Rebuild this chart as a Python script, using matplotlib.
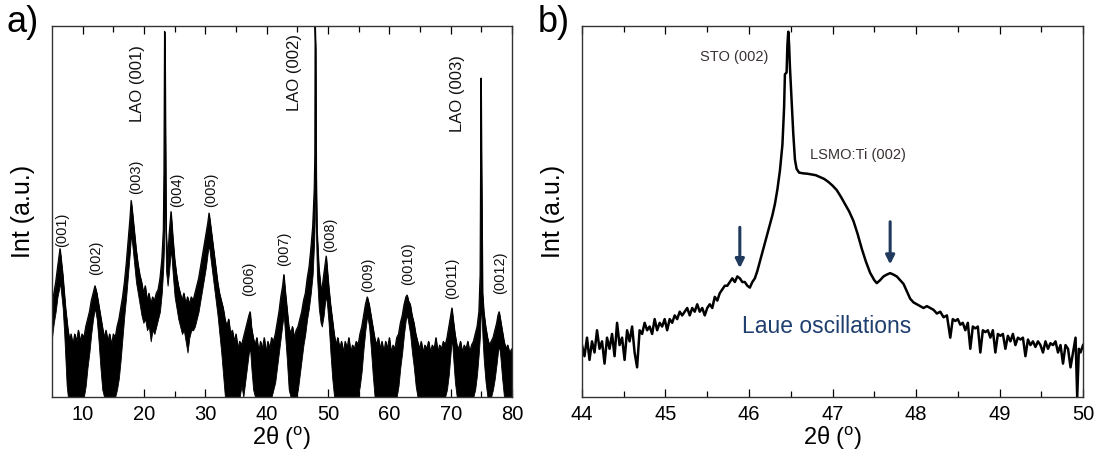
import matplotlib
matplotlib.use("Agg")
import matplotlib.pyplot as plt

plt.rcParams['font.family'] = ['Liberation Sans', 'DejaVu Sans']
plt.rcParams['mathtext.fontset'] = 'custom'
plt.rcParams['mathtext.rm'] = 'Liberation Sans'

# ---------------- Panel a: wide-range scan (display units: 0..100 of axis height)
a_two_theta = [5.0, 5.3, 5.6, 5.9, 6.15, 6.3, 6.5, 6.75, 7.0, 7.2, 7.4, 7.6, 7.9, 8.1, 8.4, 8.7,
               9.0, 9.3, 9.6, 9.9, 10.2, 10.5, 10.8, 11.1, 11.4, 11.7, 12.0, 12.3, 12.6, 12.9,
               13.2, 13.5, 13.8, 14.1, 14.4, 14.7, 15.0, 15.3, 15.6, 15.9, 16.2, 16.5, 16.8,
               17.1, 17.4, 17.7, 17.9, 18.1, 18.4, 18.7, 19.0, 19.3, 19.6, 19.9, 20.2, 20.5,
               20.8, 21.1, 21.4, 21.7, 22.0, 22.3, 22.6, 22.9, 23.15, 23.25, 23.35, 23.45,
               23.6, 23.85, 24.1, 24.4, 24.7, 25.0, 25.3, 25.6, 25.9, 26.2, 26.5, 26.8, 27.1,
               27.4, 27.7, 28.0, 28.3, 28.6, 28.9, 29.2, 29.5, 29.8, 30.1, 30.4, 30.6, 30.8,
               31.1, 31.4, 31.7, 32.0, 32.3, 32.6, 32.9, 33.2, 33.5, 33.8, 34.1, 34.4, 34.7,
               35.0, 35.3, 35.6, 35.9, 36.2, 36.5, 36.8, 37.1, 37.3, 37.5, 37.8, 38.1, 38.4,
               38.7, 39.0, 39.3, 39.6, 39.9, 40.2, 40.5, 40.8, 41.1, 41.4, 41.7, 42.0, 42.3,
               42.6, 42.8, 43.0, 43.3, 43.6, 43.9, 44.2, 44.5, 44.8, 45.1, 45.4, 45.7, 46.0,
               46.3, 46.6, 46.9, 47.2, 47.5, 47.75, 47.85, 47.9, 48.0, 48.08, 48.2, 48.5,
               48.8, 49.0, 49.3, 49.55, 49.7, 49.9, 50.1, 50.4, 50.7, 51.0, 51.3, 51.6, 51.9,
               52.2, 52.5, 52.8, 53.1, 53.4, 53.7, 54.0, 54.3, 54.6, 54.9, 55.2, 55.5, 55.8,
               56.1, 56.4, 56.7, 57.0, 57.3, 57.6, 57.9, 58.2, 58.5, 58.8, 59.1, 59.4, 59.7,
               60.0, 60.3, 60.6, 60.9, 61.2, 61.5, 61.8, 62.1, 62.4, 62.7, 62.9, 63.1, 63.4,
               63.7, 64.0, 64.3, 64.6, 64.9, 65.2, 65.5, 65.8, 66.1, 66.4, 66.7, 67.0, 67.3,
               67.6, 67.9, 68.2, 68.5, 68.8, 69.1, 69.4, 69.7, 70.0, 70.2, 70.4, 70.7, 71.0,
               71.3, 71.6, 71.9, 72.2, 72.5, 72.8, 73.1, 73.4, 73.7, 74.0, 74.3, 74.6, 74.8,
               74.95, 75.05, 75.2, 75.4, 75.7, 76.0, 76.3, 76.6, 76.9, 77.2, 77.5, 77.7, 77.9,
               78.1, 78.4, 78.7, 79.0, 79.3, 79.6, 80.0]
a_upper = [25, 28, 31, 35, 38, 40, 37, 33, 28, 24, 21, 18, 15, 17, 14, 17,
           15, 18, 15, 17, 16, 19, 21, 23, 26, 28, 30, 28, 25, 22,
           19, 16, 18, 15, 17, 14, 17, 16, 19, 21, 24, 27, 31,
           36, 42, 48, 53, 50, 45, 40, 36, 33, 31, 28, 30, 26,
           28, 25, 27, 26, 28, 29, 32, 37, 45, 60, 98.6, 88,
           45, 36, 44, 50, 43, 37, 33, 30, 28, 26, 28, 25, 27,
           25, 27, 26, 28, 30, 32, 35, 38, 41, 44, 47, 49.6, 47,
           43, 39, 35, 31, 28, 26, 24, 21, 19, 21, 17, 18, 15,
           17, 13, 15, 14, 16, 18, 20, 22, 23, 19, 16, 14, 16,
           12, 15, 13, 16, 12, 15, 13, 16, 15, 17, 20, 23, 27,
           30, 33, 29, 24, 19, 17, 19, 16, 18, 19, 21, 23, 26,
           28, 32, 35, 40, 46, 56, 65, 100, 94, 60, 45, 35,
           30, 29, 33, 36, 38, 34, 30, 25, 21, 17, 14, 16, 13,
           15, 12, 15, 13, 16, 12, 14, 13, 15, 14, 17, 19, 22,
           25, 27, 25, 22, 19, 16, 14, 16, 13, 15, 12, 15, 13,
           16, 12, 14, 13, 16, 17, 20, 22, 25, 27, 27.5, 26, 25,
           22, 20, 17, 15, 13, 15, 12, 14, 13, 15, 12, 14, 13,
           16, 12, 14, 13, 15, 14, 16, 19, 22, 24, 21, 17, 14,
           13, 15, 12, 14, 13, 15, 12, 14, 15, 17, 19, 23, 33,
           86, 60, 28, 23, 19, 16, 14, 15, 16, 18, 20, 22, 23,
           21, 18, 15, 13, 14, 12, 13]
a_lower = [16, 20, 23, 27, 29, 31, 28, 24, 17, 10, 3, 0, 0, 0, 0, 0,
           0, 0, 0, 0, 0, 3, 8, 12, 17, 21, 24, 21, 15, 8,
           2, 0, 0, 0, 0, 0, 0, 0, 2, 5, 10, 16, 22,
           27, 33, 39, 44, 41, 36, 31, 28, 25, 22, 20, 21, 18,
           19, 15, 18, 17, 19, 21, 23, 28, 35, 40, 60, 50,
           34, 30, 34, 40, 33, 27, 24, 21, 19, 17, 18, 15, 12,
           16, 18, 18, 19, 21, 23, 26, 29, 32, 35, 39, 41, 38,
           34, 30, 26, 22, 17, 12, 6, 0, 0, 0, 0, 0, 0,
           0, 0, 0, 3, 0, 4, 8, 12, 13, 8, 2, 0, 0,
           0, 0, 0, 0, 0, 0, 0, 0, 2, 4, 8, 12, 16,
           20, 22, 17, 10, 2, 0, 0, 0, 0, 2, 6, 10, 14,
           17, 21, 24, 28, 33, 42, 48, 60, 55, 42, 33, 24,
           20, 19, 22, 26, 27, 24, 20, 12, 5, 0, 0, 0, 0,
           0, 0, 0, 0, 0, 0, 0, 0, 0, 0, 3, 7, 13,
           18, 22, 19, 13, 6, 0, 0, 0, 0, 0, 0, 0, 0,
           0, 0, 0, 0, 0, 3, 8, 12, 17, 21, 22, 20, 17,
           12, 8, 3, 0, 0, 0, 0, 0, 0, 0, 0, 0, 0,
           0, 0, 0, 0, 0, 0, 2, 6, 12, 16, 11, 4, 0,
           0, 0, 0, 0, 0, 0, 0, 0, 0, 2, 6, 12, 17,
           25, 22, 16, 10, 4, 0, 0, 0, 2, 5, 9, 12, 14,
           11, 5, 0, 0, 0, 0, 0]

a_hkl_labels = ['(001)', '(002)', '(003)', '(004)', '(005)', '(006)', '(007)', '(008)',
                '(009)', '(0010)', '(0011)', '(0012)']
a_hkl_pos = [6.6, 12.2, 18.7, 25.4, 31.0, 37.1, 42.9, 50.3, 56.5, 63.0, 70.3, 78.0]
a_hkl_y = [45, 37.5, 59.5, 55.8, 55.8, 32, 40, 43.7, 33, 36, 32, 33.5]
a_lao_labels = ['LAO (001)', 'LAO (002)', 'LAO (003)']
a_lao_pos = [18.9, 44.6, 71.2]
a_lao_y = [84.6, 87.6, 81.7]

# ---------------- Panel b: zoom around (002)
b_two_theta = [44.00, 44.03, 44.06, 44.09, 44.12, 44.15, 44.18, 44.21, 44.24, 44.27, 44.30,
               44.33, 44.36, 44.39, 44.42, 44.45, 44.48, 44.51, 44.54, 44.57, 44.60, 44.63,
               44.66, 44.69, 44.72, 44.75, 44.78, 44.81, 44.84, 44.87, 44.90, 44.93, 44.96,
               44.99, 45.02, 45.05, 45.08, 45.11, 45.14, 45.17, 45.20, 45.23, 45.26, 45.29,
               45.32, 45.35, 45.38, 45.41, 45.44, 45.47, 45.50, 45.53, 45.56, 45.59, 45.62,
               45.65, 45.68, 45.71, 45.74, 45.77, 45.80, 45.83, 45.86, 45.89, 45.92, 45.95,
               45.98, 46.01, 46.04, 46.07, 46.10, 46.13, 46.16, 46.19, 46.22, 46.25, 46.28,
               46.31, 46.34, 46.37, 46.40, 46.42, 46.43, 46.45, 46.46, 46.47, 46.48, 46.49,
               46.51, 46.53, 46.55, 46.57, 46.60, 46.65, 46.70, 46.75, 46.80, 46.85, 46.90,
               46.95, 47.00, 47.05, 47.10, 47.15, 47.20, 47.25, 47.30, 47.35, 47.40, 47.45,
               47.50, 47.53, 47.57, 47.61, 47.65, 47.69, 47.73, 47.77, 47.81, 47.85, 47.89,
               47.93, 47.97, 48.01, 48.05, 48.09, 48.13, 48.17, 48.21, 48.25, 48.29, 48.33,
               48.37, 48.41, 48.44, 48.47, 48.50, 48.53, 48.56, 48.59, 48.62, 48.65, 48.68,
               48.71, 48.74, 48.77, 48.80, 48.83, 48.86, 48.89, 48.92, 48.95, 48.98, 49.01,
               49.04, 49.07, 49.10, 49.13, 49.16, 49.19, 49.22, 49.25, 49.28, 49.31, 49.34,
               49.37, 49.40, 49.43, 49.46, 49.49, 49.52, 49.55, 49.58, 49.61, 49.64, 49.67,
               49.70, 49.73, 49.76, 49.79, 49.82, 49.85, 49.88, 49.91, 49.93, 49.95, 49.97,
               50.00]
b_intensity = [14, 11, 16, 10, 15, 12, 18, 13, 15, 9, 16,
               13, 17, 11, 20, 14, 16, 10, 18, 15, 19, 12,
               8, 18, 17, 20, 18, 19, 17, 21, 18, 20, 19,
               21, 18, 21, 20, 22, 21, 23, 22, 23, 24, 22,
               24, 23, 25, 23, 24, 22, 24, 25, 24, 27, 26,
               28, 29, 30, 30, 31, 32, 31, 32.5, 32, 31, 31,
               30, 29.5, 31, 32, 34, 36.5, 39, 41.5, 44, 46.5, 49,
               52, 56, 61, 68, 78, 87, 87.5, 95, 98.5, 95, 89,
               80, 71, 64, 61.5, 60.5, 60.3, 60.2, 60, 59.8, 59.3, 58.8,
               58, 57, 55.8, 54, 52, 50, 47.5, 44, 40, 36.5, 33.5,
               31.5, 30.7, 31.5, 32.5, 33, 33.4, 33, 32.5, 31.5, 30.5, 28.5,
               26.5, 25.5, 25, 24.5, 24, 24.5, 24, 23.5, 22.5, 23, 21.5,
               22, 16, 21, 20.5, 21, 19.5, 20, 18, 20, 13, 19,
               18.5, 19, 12, 18, 17.5, 18, 16, 18, 12, 17, 16.5,
               17, 13, 16.5, 15, 17, 14, 16, 15.5, 16, 11, 15.5,
               14, 15, 13.5, 15, 14, 12, 15, 13, 14.5, 14, 15,
               12, 14, 9, 14, 13, 8, 12, 16, 0, 13, 12,
               14]

fig = plt.figure(figsize=(11.01, 4.68), dpi=100)
ax1 = fig.add_axes([0.0472, 0.1517, 0.4178, 0.7925])
ax2 = fig.add_axes([0.5286, 0.1517, 0.4551, 0.7925])

ax1.fill_between(a_two_theta, a_lower, a_upper, color='black', linewidth=0.6)
ax1.plot(a_two_theta, a_upper, color='black', linewidth=0.8)
ax1.set_xlim(5, 80)
ax1.set_ylim(0, 100)
ax1.set_xticks([10, 20, 30, 40, 50, 60, 70, 80])
ax1.set_xticks([15, 25, 35, 45, 55, 65, 75], minor=True)

for lab, xp, yp in zip(a_hkl_labels, a_hkl_pos, a_hkl_y):
    ax1.text(xp, yp, lab, rotation=90, ha='center', va='center', fontsize=10.5, color='#111111')
for lab, xp, yp in zip(a_lao_labels, a_lao_pos, a_lao_y):
    ax1.text(xp, yp, lab, rotation=90, ha='center', va='center', fontsize=12, color='#111111')

ax2.plot(b_two_theta, b_intensity, color='black', linewidth=1.8)
ax2.set_xlim(44, 50)
ax2.set_ylim(0, 100)
ax2.set_xticks([44, 45, 46, 47, 48, 49, 50])
ax2.set_xticks([44.5, 45.5, 46.5, 47.5, 48.5, 49.5], minor=True)

ax2.text(45.82, 91.6, 'STO (002)', ha='center', va='center', fontsize=10.5, color='#3a3232')
ax2.text(47.31, 65.2, 'LSMO:Ti (002)', ha='center', va='center', fontsize=10.5, color='#3a3232')
ax2.text(46.93, 19, 'Laue oscillations', ha='center', va='center', fontsize=16.5, color='#1f3f6e')
arrow_col = '#1f3a5c'
ax2.annotate('', xy=(45.89, 34), xytext=(45.89, 46.5),
             arrowprops=dict(arrowstyle='-|>', color=arrow_col, lw=2.2, mutation_scale=13))
ax2.annotate('', xy=(47.69, 35), xytext=(47.69, 48),
             arrowprops=dict(arrowstyle='-|>', color=arrow_col, lw=2.2, mutation_scale=13))

for ax in (ax1, ax2):
    ax.set_yticks([])
    ax.tick_params(axis='x', which='both', direction='in', top=True, labelsize=14.5, pad=6)
    ax.tick_params(axis='x', which='major', length=6, width=0.9)
    ax.tick_params(axis='x', which='minor', length=4, width=0.9)
    for s in ax.spines.values():
        s.set_linewidth(1.0)
        s.set_color('#333333')
    ax.set_xlabel(r'2θ ($^{\mathrm{o}}$)', fontsize=17, labelpad=0)
    ax.set_ylabel('Int (a.u.)', fontsize=18, labelpad=12)

fig.text(0.006, 0.99, 'a)', fontsize=26, ha='left', va='top')
fig.text(0.488, 0.99, 'b)', fontsize=26, ha='left', va='top')

fig.savefig('out.png', dpi=100)
